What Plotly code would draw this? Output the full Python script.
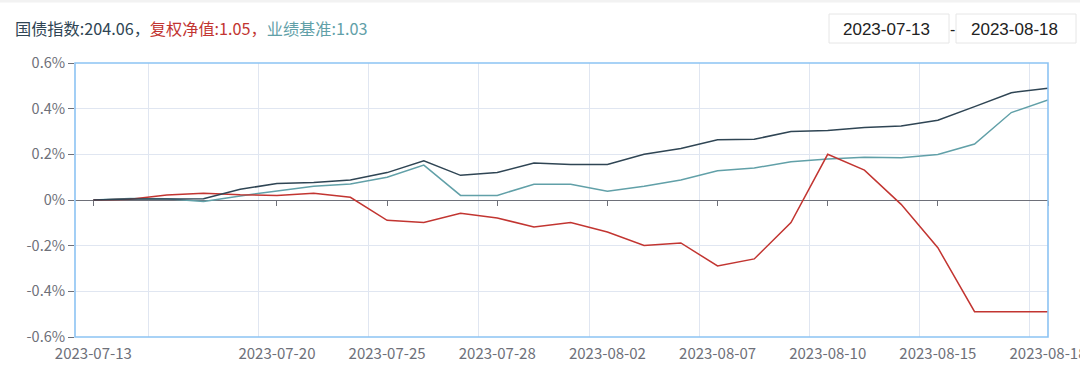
import plotly.graph_objects as go

dates = ["2023-07-13", "2023-07-14", "2023-07-17", "2023-07-18", "2023-07-19", "2023-07-20",
         "2023-07-21", "2023-07-24", "2023-07-25", "2023-07-26", "2023-07-27", "2023-07-28",
         "2023-07-31", "2023-08-01", "2023-08-02", "2023-08-03", "2023-08-04", "2023-08-07",
         "2023-08-08", "2023-08-09", "2023-08-10", "2023-08-11", "2023-08-14", "2023-08-15",
         "2023-08-16", "2023-08-17", "2023-08-18"]

guozhai = [0, 0.004, 0.004, 0.006, 0.047, 0.072, 0.077, 0.088, 0.12, 0.172, 0.108, 0.12,
           0.162, 0.156, 0.156, 0.2, 0.226, 0.264, 0.266, 0.3, 0.304, 0.317, 0.324, 0.349,
           0.409, 0.47, 0.49]
fuquan = [0, 0.003, 0.022, 0.03, 0.023, 0.02, 0.03, 0.012, -0.089, -0.098, -0.058, -0.079,
          -0.118, -0.099, -0.14, -0.199, -0.188, -0.289, -0.258, -0.099, 0.2, 0.131, -0.019,
          -0.209, -0.489, -0.489, -0.489]
yeji = [0, 0.007, 0.005, -0.007, 0.018, 0.04, 0.06, 0.07, 0.10, 0.153, 0.02, 0.02, 0.069,
        0.069, 0.038, 0.06, 0.088, 0.128, 0.14, 0.168, 0.18, 0.187, 0.185, 0.199, 0.245,
        0.383, 0.438]

xtick_labels = ["2023-07-13", "2023-07-20", "2023-07-25", "2023-07-28", "2023-08-02",
                "2023-08-07", "2023-08-10", "2023-08-15", "2023-08-18"]
ytick_vals = [0.6, 0.4, 0.2, 0, -0.2, -0.4, -0.6]
ytick_text = ["0.6%", "0.4%", "0.2%", "0%", "-0.2%", "-0.4%", "-0.6%"]

title_parts = [("国债指数:204.06，", "#2f4554"), ("复权净值:1.05，", "#c23531"), ("业绩基准:1.03", "#61a0a8")]
date_start, date_end = "2023-07-13", "2023-08-18"

W, H = 1080, 372
ML, MR, MT, MB = 75, 32, 63, 35
PW, PH = W - ML - MR, H - MT - MB

def px(x):
    return (x - ML) / PW

def py(y):
    return (H - MB - y) / PH

FONT = "Noto Sans CJK SC, Noto Sans, sans-serif"
AX = "#6E7079"
GRID = "#E0E6F1"

n = len(dates)
xr = [-0.5, n - 1]
tick_idx = [dates.index(d) for d in xtick_labels]
vgrid = [i - 0.5 for i in range(2, n, 3)]

fig = go.Figure()
# helper traces so the overlay axes (grid / zero-line ticks) are drawn
fig.add_trace(go.Scatter(x=[None], y=[None], xaxis="x2", yaxis="y", mode="lines",
                         hoverinfo="skip", showlegend=False))
fig.add_trace(go.Scatter(x=[None], y=[None], xaxis="x3", yaxis="y", mode="lines",
                         hoverinfo="skip", showlegend=False))
fig.add_trace(go.Scatter(x=dates, y=yeji, mode="lines", line=dict(color="#61a0a8", width=1.5),
                         name="业绩基准", hoverinfo="skip"))
fig.add_trace(go.Scatter(x=dates, y=fuquan, mode="lines", line=dict(color="#c23531", width=1.5),
                         name="复权净值", hoverinfo="skip"))
fig.add_trace(go.Scatter(x=dates, y=guozhai, mode="lines", line=dict(color="#2f4554", width=1.5),
                         name="国债指数", hoverinfo="skip"))

fig.update_layout(
    width=W, height=H,
    margin=dict(l=ML, r=MR, t=MT, b=MB, autoexpand=False),
    paper_bgcolor="white", plot_bgcolor="white",
    showlegend=False,
    font=dict(family=FONT, size=14, color=AX),
    xaxis=dict(type="category", categoryorder="array", categoryarray=dates, range=xr,
               tickmode="array", tickvals=xtick_labels, ticktext=xtick_labels,
               showgrid=False, zeroline=False, showline=False, automargin=False,
               ticks="outside", ticklen=3, tickcolor="rgba(0,0,0,0)",
               tickfont=dict(family=FONT, size=15, color=AX)),
    xaxis2=dict(type="linear", overlaying="x", range=xr, tickmode="array", tickvals=vgrid,
                showgrid=True, gridcolor=GRID, gridwidth=1, showticklabels=False,
                zeroline=False, showline=False, ticks="", automargin=False),
    xaxis3=dict(type="linear", overlaying="x", range=xr, anchor="free", position=py(200),
                tickmode="array", tickvals=tick_idx, showticklabels=False, showgrid=False,
                zeroline=False, showline=False, ticks="outside", ticklen=5,
                tickcolor=AX, tickwidth=1, side="bottom", automargin=False),
    yaxis=dict(range=[-0.6, 0.6], tickmode="array", tickvals=ytick_vals, ticktext=ytick_text,
               showgrid=True, gridcolor=GRID, gridwidth=1, automargin=False,
               zeroline=True, zerolinecolor=AX, zerolinewidth=1,
               showline=False, ticks="outside", ticklen=6, tickcolor=AX,
               tickfont=dict(family=FONT, size=14.5, color=AX)),
)

shapes = []
# plot border
shapes.append(dict(type="rect", xref="paper", yref="paper", x0=0, x1=1, y0=0, y1=1,
                   line=dict(color="#8cc3f3", width=1.6), fillcolor="rgba(0,0,0,0)", layer="above"))
# top gray strip
shapes.append(dict(type="rect", xref="paper", yref="paper", x0=px(0), x1=px(W), y0=py(2.5), y1=py(0),
                   line=dict(width=0), fillcolor="#f2f2f2"))
# date boxes
for x0, x1 in [(829, 949), (956, 1076)]:
    shapes.append(dict(type="rect", xref="paper", yref="paper", x0=px(x0), x1=px(x1),
                       y0=py(43), y1=py(14), line=dict(color="#e6e6e6", width=1),
                       fillcolor="white"))
fig.update_layout(shapes=shapes)

title_html = "".join(f'<span style="color:{c}">{t}</span>' for t, c in title_parts)
anns = [
    dict(text=title_html, xref="paper", yref="paper", x=px(13), y=py(27.5), xanchor="left",
         yanchor="middle", showarrow=False, font=dict(family=FONT, size=16.2)),
    dict(text=date_start, xref="paper", yref="paper", x=px(886), y=py(29), xanchor="center",
         yanchor="middle", showarrow=False, font=dict(family="Liberation Sans, Arial", size=17, color="#222")),
    dict(text=date_end, xref="paper", yref="paper", x=px(1014), y=py(29), xanchor="center",
         yanchor="middle", showarrow=False, font=dict(family="Liberation Sans, Arial", size=17, color="#222")),
    dict(text="-", xref="paper", yref="paper", x=px(952.5), y=py(29), xanchor="center",
         yanchor="middle", showarrow=False, font=dict(family="Liberation Sans, Arial", size=16, color="#222")),
]
fig.update_layout(annotations=anns)

fig.write_html("out.html", config={"displayModeBar": False},
               post_script="document.body.style.margin='0';document.body.style.overflow='hidden';")
